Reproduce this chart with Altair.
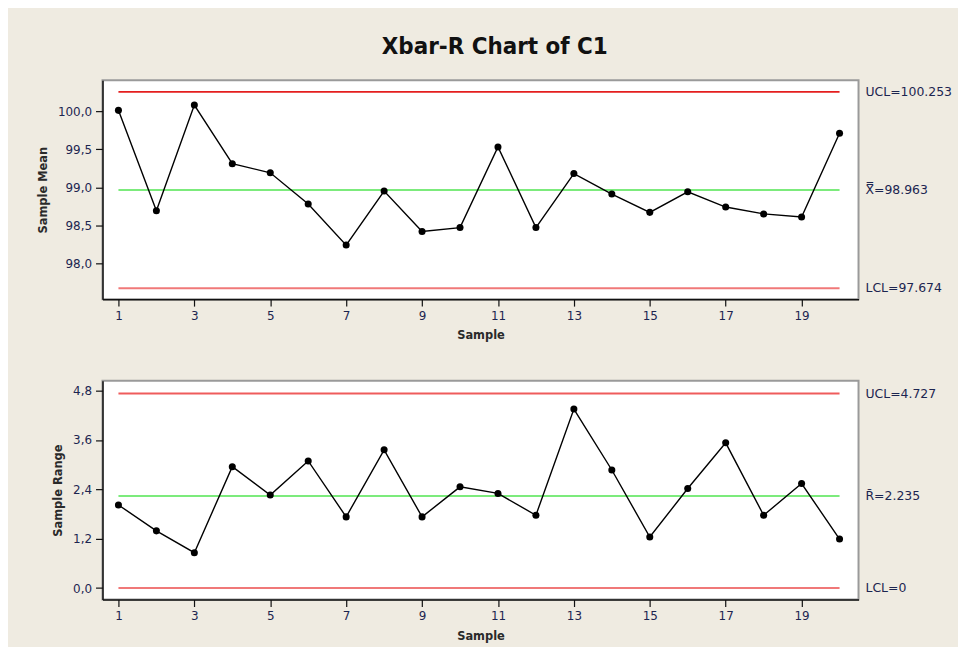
import altair as alt
import pandas as pd

samples = list(range(1, 21))
sample_means = [100.01, 98.69, 100.08, 99.31, 99.19, 98.78, 98.24, 98.95, 98.42, 98.47,
                99.53, 98.47, 99.18, 98.91, 98.67, 98.94, 98.74, 98.65, 98.61, 99.71]
sample_ranges = [2.02, 1.39, 0.86, 2.95, 2.26, 3.09, 1.73, 3.36, 1.73, 2.46,
                 2.30, 1.77, 4.35, 2.87, 1.24, 2.42, 3.53, 1.77, 2.54, 1.19]

xbar_limit_names = ["UCL", "CL", "LCL"]
xbar_limit_values = [100.253, 98.963, 97.674]
xbar_limit_labels = ["UCL=100.253", "X\u033f=98.963", "LCL=97.674"]

r_limit_names = ["UCL", "CL", "LCL"]
r_limit_values = [4.727, 2.235, 0.0]
r_limit_labels = ["UCL=4.727", "R\u0304=2.235", "LCL=0"]

x_ticks = [1, 3, 5, 7, 9, 11, 13, 15, 17, 19]
mean_ticks = [98.0, 98.5, 99.0, 99.5, 100.0]
range_ticks = [0.0, 1.2, 2.4, 3.6, 4.8]

W, H = 760, 220
BG = "#EFEBE1"
LABEL_COLOR = "#1c2550"
FONT = "DejaVu Sans"

comma_fmt = "replace(format(datum.value, '.1f'), '.', ',')"


def panel(values, names, limvals, limlabels, ytitle, ydomain, yticks, ucl_color):
    pts = pd.DataFrame({"Sample": samples, "Value": values})
    lims = pd.DataFrame({
        "name": names, "value": limvals, "label": limlabels,
        "start": samples[0], "end": samples[-1],
    })
    x_scale = alt.Scale(domain=[0.58, 20.5], nice=False, zero=False)
    x_axis = alt.Axis(values=x_ticks, title="Sample", format="d")
    x_enc = alt.X("Sample:Q", scale=x_scale, axis=x_axis)
    y_scale = alt.Scale(domain=ydomain, nice=False, zero=False)
    y_axis = alt.Axis(values=yticks, title=ytitle, labelExpr=comma_fmt)

    rules = alt.Chart(lims).mark_rule(strokeWidth=2).encode(
        x=alt.X("start:Q", scale=x_scale, axis=x_axis),
        x2="end:Q",
        y=alt.Y("value:Q", scale=y_scale, axis=y_axis),
        color=alt.Color("name:N", legend=None,
                        scale=alt.Scale(domain=["UCL", "CL", "LCL"],
                                        range=[ucl_color, "#7CEB7C", "#F07878"])),
    )
    line = alt.Chart(pts).mark_line(color="black", strokeWidth=1.4).encode(
        x=x_enc, y=alt.Y("Value:Q", scale=y_scale, axis=y_axis))
    points = alt.Chart(pts).mark_circle(color="black", size=50, opacity=1).encode(
        x=x_enc, y=alt.Y("Value:Q", scale=y_scale, axis=y_axis))
    labels = alt.Chart(lims).mark_text(
        align="left", baseline="middle", font=FONT, fontSize=12.5,
        color=LABEL_COLOR, clip=False,
    ).encode(
        x=alt.value(W + 7),
        y=alt.Y("value:Q", scale=y_scale, axis=y_axis),
        text="label:N",
    )
    return alt.layer(rules, line, points, labels).properties(width=W, height=H)


top = panel(sample_means, xbar_limit_names, xbar_limit_values, xbar_limit_labels,
            "Sample Mean", [97.53, 100.405], mean_ticks, "#E41E1E")
bottom = panel(sample_ranges, r_limit_names, r_limit_values, r_limit_labels,
               "Sample Range", [-0.28, 5.04], range_ticks, "#EF5C5C")

chart = alt.vconcat(top, bottom, spacing=37).resolve_scale(
    color="independent"
).properties(
    title=alt.TitleParams("Xbar-R Chart of C1", anchor="middle", fontSize=24,
                          font="DejaVu Sans Condensed, DejaVu Sans, sans-serif",
                          fontWeight="bold", color="#111111", offset=20),
    background=BG,
    padding={"left": 28, "top": 26, "right": 4, "bottom": 2},
).configure_view(
    stroke="#9a9a9a", strokeWidth=2, fill="white"
).configure_axis(
    domainColor="#111111", domainWidth=1.5, tickColor="#111111", tickSize=7,
    tickWidth=1.2, labelFont=FONT, labelFontSize=12, labelColor=LABEL_COLOR,
    labelPadding=4, titleFont=FONT, titleFontSize=11.5, titleFontWeight="bold",
    titleColor="#2a2a2a", grid=False,
).configure_axisY(titlePadding=9).configure_axisX(titlePadding=9)

chart.save("out.html", embed_options={"renderer": "svg", "actions": False})
